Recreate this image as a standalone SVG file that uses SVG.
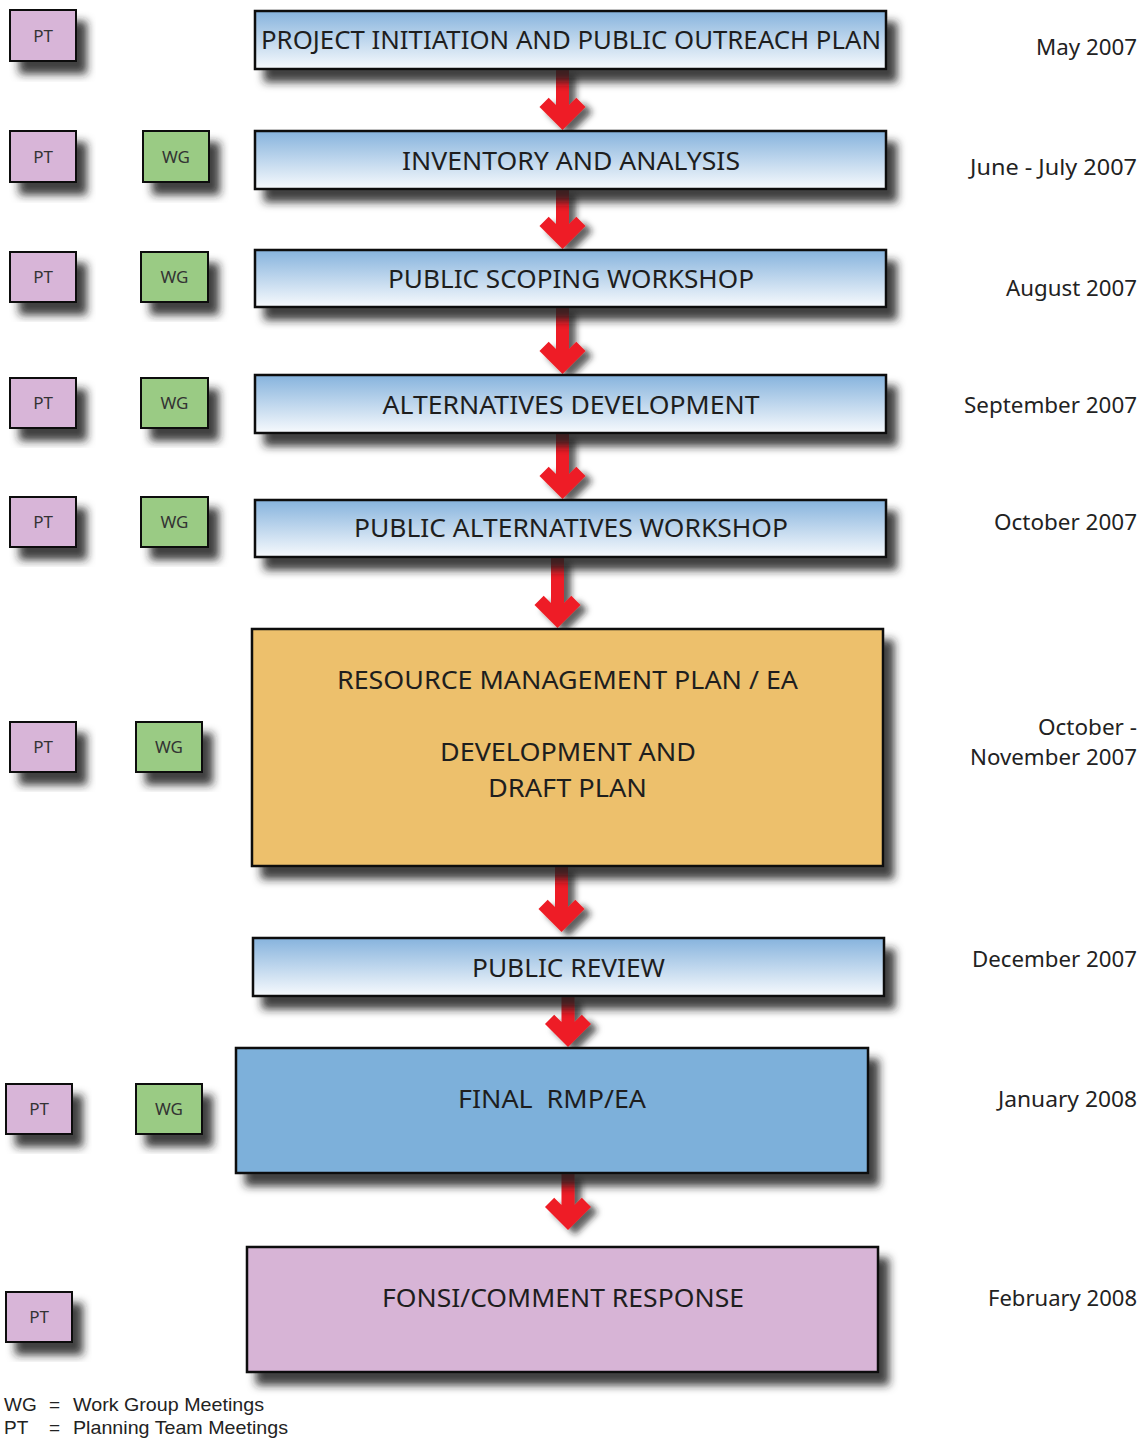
<svg xmlns="http://www.w3.org/2000/svg" width="1144" height="1439" viewBox="0 0 1144 1439">
<defs>
<filter id="sh" x="-20%" y="-20%" width="150%" height="160%">
<feDropShadow dx="10" dy="12" stdDeviation="4" flood-color="#1a1a1a" flood-opacity="0.85"/>
</filter>
<filter id="ash" x="-50%" y="-20%" width="200%" height="150%">
<feDropShadow dx="7" dy="5" stdDeviation="3" flood-color="#1a1a1a" flood-opacity="0.7"/>
</filter>
<linearGradient id="blu" x1="0" y1="0" x2="0" y2="1">
<stop offset="0" stop-color="#86b3dd"/>
<stop offset="1" stop-color="#f7fafd"/>
</linearGradient>
</defs>
<style>
.bx{stroke:#111;stroke-width:2.5;filter:url(#sh)}
.sm{stroke:#111;stroke-width:2;filter:url(#sh)}
.pt{fill:#d8b5d8}
.wg{fill:#9acb84}
.t{font-family:"Noto Sans","Open Sans",sans-serif;fill:#1e1e1e;text-anchor:middle}
.lb{font-size:25px}
.s{font-size:17px;fill:#333}
.d{font-family:"Noto Sans","Open Sans",sans-serif;font-size:22px;fill:#222;text-anchor:end}
.lg{font-family:"Liberation Sans",Arial,sans-serif;font-size:19px;fill:#222}
.ar{fill:#ee1c25;filter:url(#ash)}
</style>
<rect width="1144" height="1439" fill="#fff"/>

<g id="connectors">
<path class="ar" d="M556,69 L569,69 L569,105.1 L576.3,97.8 L585.5,107 L562.5,130 L539.5,107 L548.7,97.8 L556,105.1 Z"/>
<path class="ar" d="M556,189 L569,189 L569,224.1 L576.3,216.8 L585.5,226 L562.5,249 L539.5,226 L548.7,216.8 L556,224.1 Z"/>
<path class="ar" d="M556,307 L569,307 L569,349.1 L576.3,341.8 L585.5,351 L562.5,374 L539.5,351 L548.7,341.8 L556,349.1 Z"/>
<path class="ar" d="M556,433 L569,433 L569,474.1 L576.3,466.8 L585.5,476 L562.5,499 L539.5,476 L548.7,466.8 L556,474.1 Z"/>
<path class="ar" d="M551,557 L564,557 L564,603.1 L571.3,595.8 L580.5,605 L557.5,628 L534.5,605 L543.7,595.8 L551,603.1 Z"/>
<path class="ar" d="M555,866 L568,866 L568,907.1 L575.3,899.8 L584.5,909 L561.5,932 L538.5,909 L547.7,899.8 L555,907.1 Z"/>
<path class="ar" d="M561.5,996 L574.5,996 L574.5,1022.1 L581.8,1014.8 L591,1024 L568,1047 L545,1024 L554.2,1014.8 L561.5,1022.1 Z"/>
<path class="ar" d="M561.5,1173 L574.5,1173 L574.5,1205.1 L581.8,1197.8 L591,1207 L568,1230 L545,1207 L554.2,1197.8 L561.5,1205.1 Z"/>
</g>

<g id="n1"><rect class="bx" x="255" y="11" width="631" height="58" fill="url(#blu)"/><text class="t lb" x="571" y="49" textLength="620" lengthAdjust="spacingAndGlyphs">PROJECT INITIATION AND PUBLIC OUTREACH PLAN</text></g>
<g id="n2"><rect class="bx" x="255" y="131" width="631" height="58" fill="url(#blu)"/><text class="t lb" x="571" y="170" textLength="338" lengthAdjust="spacingAndGlyphs">INVENTORY AND ANALYSIS</text></g>
<g id="n3"><rect class="bx" x="255" y="250" width="631" height="57" fill="url(#blu)"/><text class="t lb" x="571" y="288" textLength="366" lengthAdjust="spacingAndGlyphs">PUBLIC SCOPING WORKSHOP</text></g>
<g id="n4"><rect class="bx" x="255" y="375" width="631" height="58" fill="url(#blu)"/><text class="t lb" x="571" y="414" textLength="377" lengthAdjust="spacingAndGlyphs">ALTERNATIVES DEVELOPMENT</text></g>
<g id="n5"><rect class="bx" x="255" y="500" width="631" height="57" fill="url(#blu)"/><text class="t lb" x="571" y="537" textLength="434" lengthAdjust="spacingAndGlyphs">PUBLIC ALTERNATIVES WORKSHOP</text></g>
<g id="n6"><rect class="bx" x="252" y="629" width="631" height="237" fill="#edc06c"/>
<text class="t lb" x="567.5" y="689" textLength="461" lengthAdjust="spacingAndGlyphs">RESOURCE MANAGEMENT PLAN / EA</text>
<text class="t lb" x="568" y="761" textLength="256" lengthAdjust="spacingAndGlyphs">DEVELOPMENT AND</text>
<text class="t lb" x="567.5" y="797" textLength="159" lengthAdjust="spacingAndGlyphs">DRAFT PLAN</text></g>
<g id="n7"><rect class="bx" x="253" y="938" width="631" height="58" fill="url(#blu)"/><text class="t lb" x="568.5" y="977" textLength="193" lengthAdjust="spacingAndGlyphs">PUBLIC REVIEW</text></g>
<g id="n8"><rect class="bx" x="236" y="1048" width="632" height="125" fill="#7db0da"/><text class="t lb" x="552" y="1108" textLength="188" lengthAdjust="spacingAndGlyphs" xml:space="preserve">FINAL  RMP/EA</text></g>
<g id="n9"><rect class="bx" x="247" y="1247" width="631" height="125" fill="#d7b4d6"/><text class="t lb" x="563" y="1307" textLength="362" lengthAdjust="spacingAndGlyphs">FONSI/COMMENT RESPONSE</text></g>

<g id="pt1"><rect class="sm pt" x="10" y="10" width="66" height="51"/><text class="t s" x="43" y="42">PT</text></g>
<g id="pt2"><rect class="sm pt" x="10" y="131" width="66" height="51"/><text class="t s" x="43" y="163">PT</text></g>
<g id="pt3"><rect class="sm pt" x="10" y="252" width="66" height="50"/><text class="t s" x="43" y="283">PT</text></g>
<g id="pt4"><rect class="sm pt" x="10" y="378" width="66" height="50"/><text class="t s" x="43" y="409">PT</text></g>
<g id="pt5"><rect class="sm pt" x="10" y="497" width="66" height="50"/><text class="t s" x="43" y="528">PT</text></g>
<g id="pt6"><rect class="sm pt" x="10" y="722" width="66" height="50"/><text class="t s" x="43" y="753">PT</text></g>
<g id="pt7"><rect class="sm pt" x="6" y="1084" width="66" height="50"/><text class="t s" x="39" y="1115">PT</text></g>
<g id="pt8"><rect class="sm pt" x="6" y="1292" width="66" height="50"/><text class="t s" x="39" y="1323">PT</text></g>

<g id="wg1"><rect class="sm wg" x="143" y="131" width="66" height="51"/><text class="t s" x="176" y="163">WG</text></g>
<g id="wg2"><rect class="sm wg" x="141" y="252" width="67" height="50"/><text class="t s" x="174.5" y="283">WG</text></g>
<g id="wg3"><rect class="sm wg" x="141" y="378" width="67" height="50"/><text class="t s" x="174.5" y="409">WG</text></g>
<g id="wg4"><rect class="sm wg" x="141" y="497" width="67" height="50"/><text class="t s" x="174.5" y="528">WG</text></g>
<g id="wg5"><rect class="sm wg" x="136" y="722" width="66" height="50"/><text class="t s" x="169" y="753">WG</text></g>
<g id="wg6"><rect class="sm wg" x="136" y="1084" width="66" height="50"/><text class="t s" x="169" y="1115">WG</text></g>

<g id="dates">
<text class="d" x="1137" y="55" textLength="101" lengthAdjust="spacingAndGlyphs">May 2007</text>
<text class="d" x="1137" y="175" textLength="167" lengthAdjust="spacingAndGlyphs">June - July 2007</text>
<text class="d" x="1137" y="296" textLength="131" lengthAdjust="spacingAndGlyphs">August 2007</text>
<text class="d" x="1137" y="413" textLength="173" lengthAdjust="spacingAndGlyphs">September 2007</text>
<text class="d" x="1137" y="530" textLength="143" lengthAdjust="spacingAndGlyphs">October 2007</text>
<text class="d" x="1137" y="735" textLength="99" lengthAdjust="spacingAndGlyphs">October -</text>
<text class="d" x="1137" y="765" textLength="167" lengthAdjust="spacingAndGlyphs">November 2007</text>
<text class="d" x="1137" y="967" textLength="165" lengthAdjust="spacingAndGlyphs">December 2007</text>
<text class="d" x="1137" y="1107" textLength="139" lengthAdjust="spacingAndGlyphs">January 2008</text>
<text class="d" x="1137" y="1306" textLength="149" lengthAdjust="spacingAndGlyphs">February 2008</text>
</g>

<g id="legend">
<text class="lg" x="4" y="1411">WG</text><text class="lg" x="49" y="1411">=</text><text class="lg" x="73" y="1411" textLength="191" lengthAdjust="spacingAndGlyphs">Work Group Meetings</text>
<text class="lg" x="4" y="1434">PT</text><text class="lg" x="49" y="1434">=</text><text class="lg" x="73" y="1434" textLength="215" lengthAdjust="spacingAndGlyphs">Planning Team Meetings</text>
</g>
</svg>
